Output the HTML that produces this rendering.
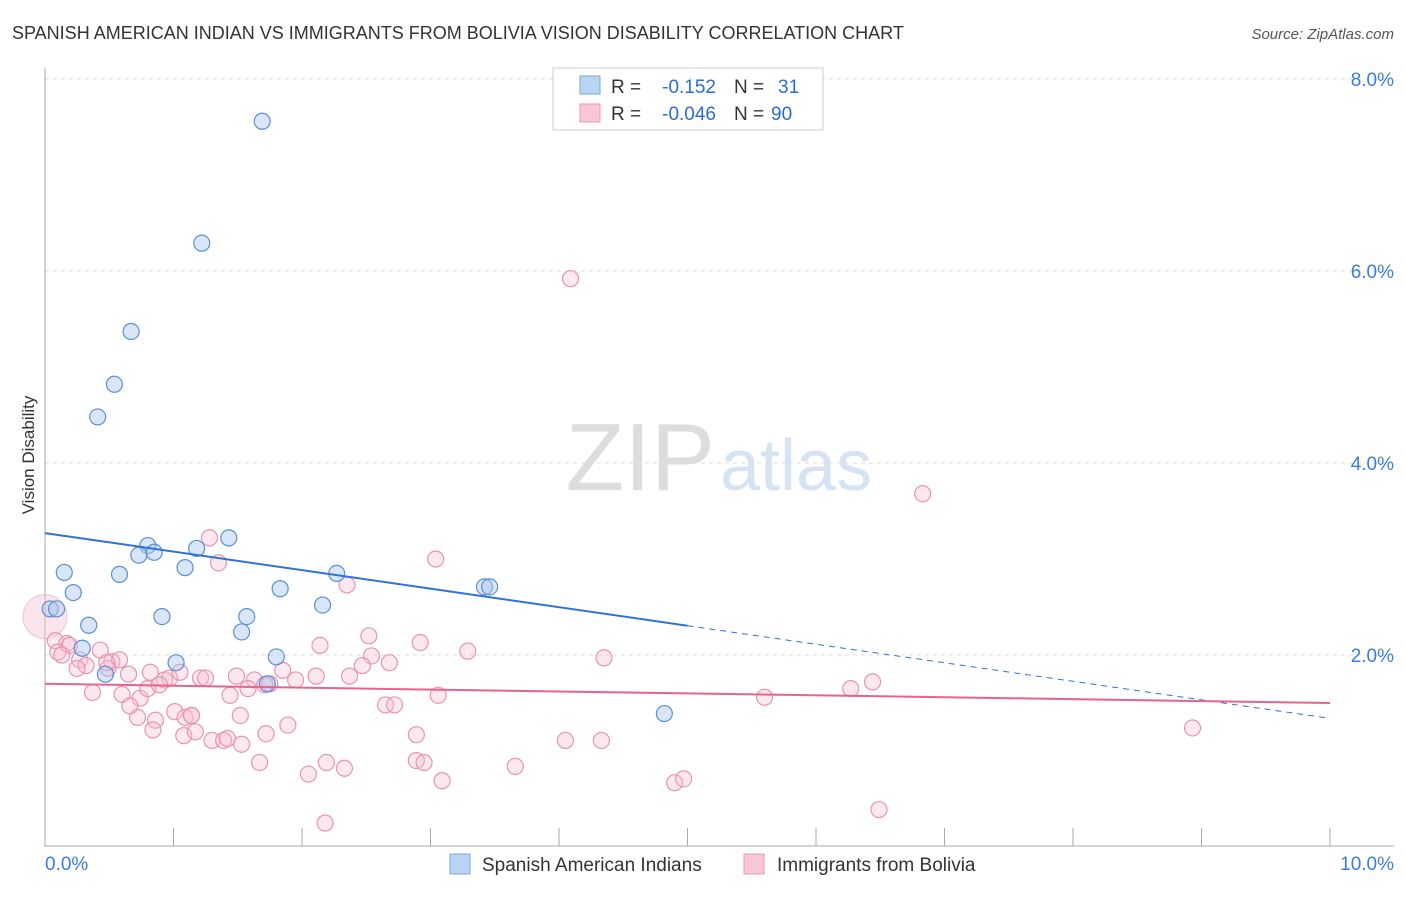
<!DOCTYPE html>
<html><head><meta charset="utf-8"><style>
body{margin:0;background:#fff;font-family:"Liberation Sans",sans-serif}
svg text{font-family:"Liberation Sans",sans-serif}
</style></head><body>
<svg id="c" width="1406" height="892">
<text x="12" y="39" font-size="18" fill="#333">SPANISH AMERICAN INDIAN VS IMMIGRANTS FROM BOLIVIA VISION DISABILITY CORRELATION CHART</text>
<text x="1394" y="39" font-size="15" fill="#555" font-style="italic" text-anchor="end">Source: ZipAtlas.com</text>
<text transform="translate(34,455) rotate(-90)" font-size="17" fill="#333" text-anchor="middle">Vision Disability</text>
<text x="715" y="490" font-size="96" fill="#ddd" font-family="Liberation Serif" text-anchor="end">ZIP</text>
<text x="720" y="490" font-size="72" fill="#d5e3f3">atlas</text>
<g id="grid"></g><g id="pts"></g><g id="lines"></g>
<g>
<rect x="553" y="68" width="270" height="62" fill="#fff" stroke="#ccc"/>
<rect x="580" y="76" width="20" height="18" fill="#b9d4f5" stroke="#7aa6e0"/>
<rect x="580" y="104" width="20" height="18" fill="#f8c6d6" stroke="#e899b4"/>
<text x="611" y="93" font-size="19" fill="#333">R =</text>
<text x="716" y="93" font-size="19" fill="#2a6dd2" text-anchor="end">-0.152</text>
<text x="734" y="93" font-size="19" fill="#333">N =</text>
<text x="778" y="93" font-size="19" fill="#2a6dd2">31</text>
<text x="611" y="120" font-size="19" fill="#333">R =</text>
<text x="716" y="120" font-size="19" fill="#2a6dd2" text-anchor="end">-0.046</text>
<text x="734" y="120" font-size="19" fill="#333">N =</text>
<text x="771" y="120" font-size="19" fill="#2a6dd2">90</text>
</g>
<g>
<rect x="450" y="854" width="20" height="20" fill="#b9d4f5" stroke="#7aa6e0"/>
<text x="482" y="871" font-size="19" fill="#333">Spanish American Indians</text>
<rect x="744" y="854" width="20" height="20" fill="#f8c6d6" stroke="#e899b4"/>
<text x="777" y="871" font-size="19" fill="#333">Immigrants from Bolivia</text>
</g>
</svg>
<script>
const yTicks=[2,4,6,8];
const xTickLabels=["0.0%","10.0%"];
const blueX=[1.69,1.22,0.67,0.54,0.41,1.43,0.8,0.85,0.73,1.18,0.15,0.58,1.09,2.27,1.83,0.22,3.42,3.46,0.04,0.09,0.91,1.57,2.16,0.34,1.53,0.29,1.02,1.8,0.47,1.73,4.82];
const bY=[7.56,6.29,5.37,4.82,4.48,3.22,3.14,3.07,3.04,3.11,2.86,2.84,2.91,2.85,2.69,2.65,2.71,2.71,2.48,2.48,2.4,2.4,2.52,2.31,2.24,2.07,1.92,1.98,1.8,1.7,1.39];
const pinkX=[4.09,6.83,3.04,1.28,1.35,2.35,2.52,2.14,2.92,3.29,4.35,2.68,2.54,2.47,0.08,0.17,0.19,0.1,0.13,0.27,0.32,0.43,0.25,0.52,0.58,0.49,0.65,0.82,0.93,0.97,1.05,1.21,1.25,1.49,1.63,1.85,1.95,2.11,2.37,0.37,0.6,0.74,0.8,0.89,1.44,1.58,1.75,1.71,3.06,2.65,2.72,5.6,6.27,6.44,0.72,0.86,1.01,1.09,1.14,1.52,0.84,1.08,1.17,1.3,1.39,1.42,1.72,1.89,2.89,4.05,4.33,8.93,1.53,1.67,2.05,2.19,2.33,2.89,2.95,3.09,3.66,4.9,4.97,2.18,6.49,1.14,0.66,0.48];
const pinkY=[5.92,3.68,3.0,3.22,2.96,2.73,2.2,2.1,2.13,2.04,1.97,1.92,1.99,1.89,2.15,2.12,2.1,2.03,2.0,1.95,1.89,2.05,1.86,1.93,1.95,1.86,1.8,1.82,1.74,1.76,1.82,1.76,1.76,1.78,1.74,1.84,1.74,1.78,1.78,1.61,1.59,1.55,1.65,1.69,1.58,1.65,1.7,1.69,1.58,1.48,1.48,1.56,1.65,1.72,1.35,1.32,1.41,1.35,1.37,1.37,1.22,1.16,1.2,1.11,1.11,1.13,1.18,1.27,1.17,1.11,1.11,1.24,1.07,0.88,0.76,0.88,0.82,0.9,0.88,0.69,0.84,0.67,0.71,0.25,0.39,1.37,1.47,1.92];
const blueLine=[3.27,1.34];const pinkLine=[1.70,1.50];
const X=v=>45+v*128.5, Y=v=>847-v*96;
const NS="http://www.w3.org/2000/svg";
function mk(p,t,a){const e=document.createElementNS(NS,t);for(const k in a)e.setAttribute(k,a[k]);p.appendChild(e);return e;}
const g=document.getElementById('grid');
yTicks.forEach(t=>{const l=mk(g,'line',{x1:45,x2:1394,y1:Y(t),y2:Y(t),stroke:'#ddd','stroke-dasharray':'4,4'});


const tx=mk(g,'text',{x:1394,y:Y(t)+7,'font-size':19,fill:'#3b7dd8','text-anchor':'end'});tx.textContent=t.toFixed(1)+'%';

});
mk(g,'line',{x1:45,x2:45,y1:68,y2:847,stroke:'#aaa'});
mk(g,'line',{x1:45,x2:1394,y1:846,y2:846,stroke:'#aaa'});
for(let i=0;i<=10;i++){mk(g,'line',{x1:X(i),x2:X(i),y1:828,y2:846,stroke:'#aaa'});}
xTickLabels.forEach((s,i)=>{const tx=mk(g,'text',{x:i?1394:45,y:870,'font-size':19,fill:'#3b7dd8','text-anchor':i?'end':'start'});tx.textContent=s;

});
const p=document.getElementById('pts');
const big=mk(p,'circle',{cx:45,cy:Y(2.4),r:22,fill:'rgba(245,190,210,0.4)',stroke:'rgba(230,150,180,0.5)'});


pinkX.forEach((x,i)=>{const c=mk(p,'circle',{cx:X(x),cy:Y(pinkY[i]),r:8,fill:'rgba(248,190,210,0.35)',stroke:'#e893b2','stroke-width':1.2});

});
blueX.forEach((x,i)=>{const c=mk(p,'circle',{cx:X(x),cy:Y(bY[i]),r:8,fill:'rgba(170,200,240,0.45)',stroke:'#5a8fd6','stroke-width':1.2});

});
const L=document.getElementById('lines');
const bf=v=>blueLine[0]+(blueLine[1]-blueLine[0])*v/10;
const b1=mk(L,'line',{x1:X(0),y1:Y(bf(0)),x2:X(5),y2:Y(bf(5)),stroke:'#2f72d8','stroke-width':2});


const b2=mk(L,'line',{x1:X(5),y1:Y(bf(5)),x2:X(10),y2:Y(bf(10)),stroke:'#2f72d8','stroke-width':1,'stroke-dasharray':'6,5'});


const p1=mk(L,'line',{x1:X(0),y1:Y(pinkLine[0]),x2:X(10),y2:Y(pinkLine[1]),stroke:'#e8628f','stroke-width':2});


</script>
</body></html>
